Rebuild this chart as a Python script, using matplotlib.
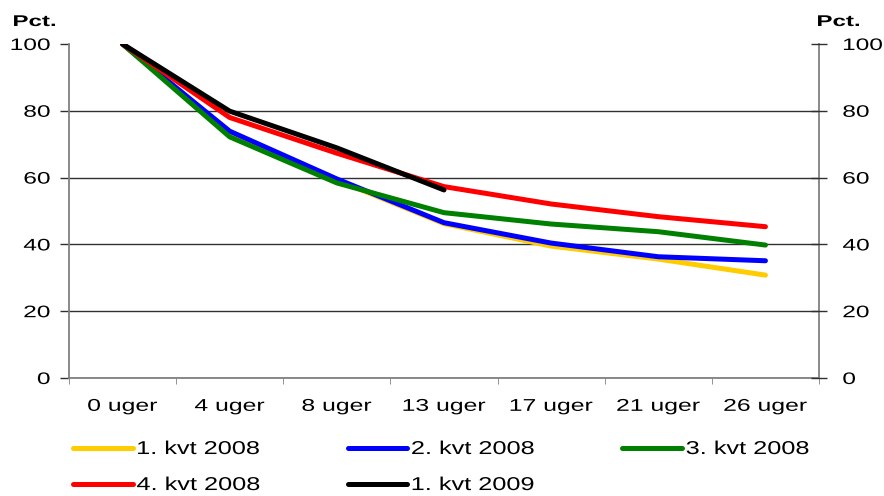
import numpy as np
import matplotlib.pyplot as plt
import matplotlib.patheffects as pe
from matplotlib.transforms import Affine2D

plt.rcParams['font.family'] = ['Liberation Sans', 'DejaVu Sans']

weeks = ['0 uger', '4 uger', '8 uger', '13 uger', '17 uger', '21 uger', '26 uger']
kvt1_2008 = [100, 73.5, 59.3, 46.2, 39.5, 35.6, 30.8]
kvt2_2008 = [100, 73.9, 59.6, 46.5, 40.4, 36.3, 35.1]
kvt3_2008 = [100, 72.2, 58.4, 49.5, 46.1, 43.8, 39.8]
kvt4_2008 = [100, 78.0, 67.3, 57.3, 52.1, 48.3, 45.3]
kvt1_2009 = [100, 79.9, 68.9, 56.3]

series = [
    ('1. kvt 2008', kvt1_2008, '#FFCC00'),
    ('2. kvt 2008', kvt2_2008, '#0000FF'),
    ('3. kvt 2008', kvt3_2008, '#008000'),
    ('4. kvt 2008', kvt4_2008, '#FF0000'),
    ('1. kvt 2009', kvt1_2009, '#000000'),
]


# the original chart's text is drawn horizontally stretched
class Stretch(pe.AbstractPathEffect):
    def __init__(self, sx, anchor):
        super().__init__()
        self.sx = sx
        self.anchor = anchor

    def draw_path(self, renderer, gc, tpath, affine, rgbFace=None):
        ext = tpath.get_extents()
        x0 = ext.x0 + self.anchor * ext.width
        t = Affine2D().translate(-x0, 0).scale(self.sx, 1).translate(x0, 0)
        renderer.draw_path(gc, tpath, t + affine, rgbFace)


fig = plt.figure(figsize=(8.84, 4.96), dpi=100)
ax = fig.add_axes([0.078, 0.2379, 0.8485, 0.6734])

x = np.arange(len(weeks))
lines = []
for name, vals, col in series:
    l, = ax.plot(x[:len(vals)], vals, color=col, lw=3.6, label=name,
                 solid_capstyle='round', solid_joinstyle='round')
    lines.append(l)

ax.set_ylim(0, 100)
ax.set_xlim(-0.5, len(weeks) - 0.5)
ax.set_yticks(range(0, 101, 20))
ax.set_xticks(x)
ax.set_xticklabels(weeks)
ax.set_xticks(np.arange(-0.5, len(weeks)), minor=True)
ax.grid(axis='y', color='#303030', lw=1)
ax.yaxis.get_gridlines()[-1].set_visible(False)
ax.set_axisbelow(True)
ax.spines['top'].set_visible(False)
for s in ['left', 'right', 'bottom']:
    ax.spines[s].set_color('#808080')
    ax.spines[s].set_linewidth(1.3)
ax.tick_params(axis='y', direction='out', length=6.5, width=1, color='#303030',
               labelsize=12, pad=7)
ax.tick_params(axis='x', which='major', length=0, labelsize=12.3, pad=15)
ax.tick_params(axis='x', which='minor', direction='out', length=4, color='#808080')

ax2 = ax.twinx()
ax2.set_ylim(0, 100)
ax2.set_yticks(range(0, 101, 20))
for s in ['left', 'right', 'top', 'bottom']:
    ax2.spines[s].set_visible(False)
ax2.tick_params(axis='y', direction='inout', length=12, width=1, color='#303030',
                labelsize=12, pad=11)

for lab in ax.get_yticklabels():
    lab.set_path_effects([Stretch(1.47, 1.0)])
for lab in ax2.get_yticklabels():
    lab.set_path_effects([Stretch(1.47, 0.0)])
for lab in ax.get_xticklabels():
    lab.set_path_effects([Stretch(1.45, 0.5)])

for px in [13, 817]:
    fig.text(px / 884, 1 - 26 / 496, 'Pct.', fontsize=11.2, fontweight='bold',
             path_effects=[Stretch(1.55, 0.0)])

order = [0, 3, 1, 4, 2]
leg = fig.legend([lines[i] for i in order], [series[i][0] for i in order],
                 loc='upper left', bbox_to_anchor=(73 / 884, 1 - 441 / 496), ncol=3,
                 frameon=False, fontsize=13.4,
                 handlelength=3.2, handletextpad=0.22, columnspacing=6.45,
                 labelspacing=1.02, borderpad=0, borderaxespad=0)
for t in leg.get_texts():
    t.set_path_effects([Stretch(1.36, 0.0)])

fig.savefig('out.png', dpi=100)
